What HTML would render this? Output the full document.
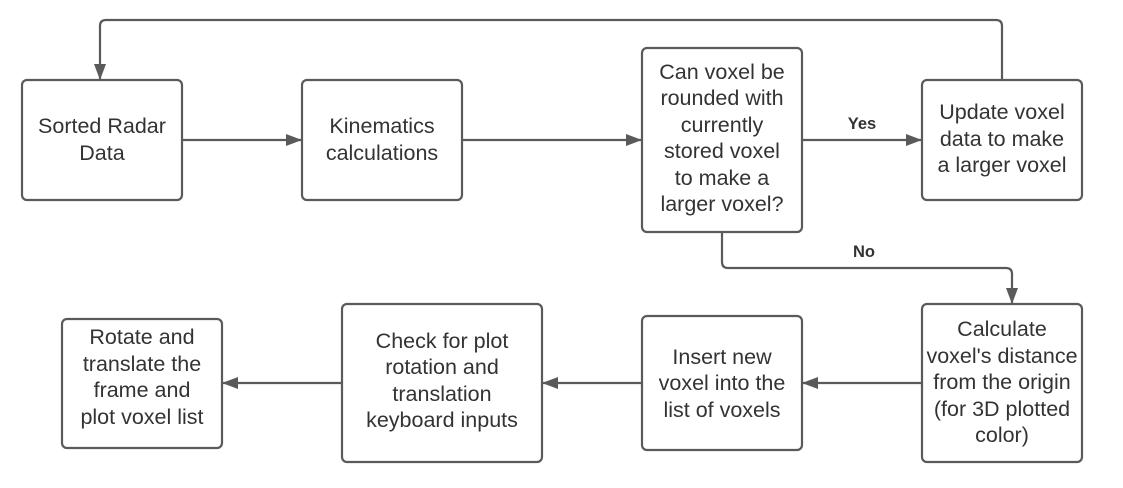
<!DOCTYPE html>
<html><head><style>
body{margin:0;background:#fff;}
svg text{font-family:"Liberation Sans",sans-serif;fill:#333;}
</style></head><body>
<svg width="1123" height="483" viewBox="0 0 1123 483" xmlns="http://www.w3.org/2000/svg">
<defs><marker id="a" markerWidth="16" markerHeight="12" refX="15" refY="6" orient="auto" markerUnits="userSpaceOnUse"><path d="M0,0 L16,6 L0,12 z" fill="#5a5a5a"/></marker></defs>
<g fill="none" stroke="#5a5a5a" stroke-width="2.2">
<rect x="22" y="80" width="160" height="120" rx="5"/>
<rect x="302" y="80" width="160" height="120" rx="5"/>
<rect x="642" y="48" width="160" height="184" rx="5"/>
<rect x="922" y="80" width="160" height="120" rx="5"/>
<rect x="922" y="304" width="160" height="158" rx="5"/>
<rect x="642" y="316" width="160" height="134" rx="5"/>
<rect x="342" y="304" width="200" height="158" rx="5"/>
<rect x="62" y="319" width="160" height="129" rx="5"/>
<path d="M182 140 H301" marker-end="url(#a)"/>
<path d="M462 140 H641" marker-end="url(#a)"/>
<path d="M802 140 H921" marker-end="url(#a)"/>
<path d="M1002 80 V26 Q1002 20 996 20 H106 Q100 20 100 26 V79" marker-end="url(#a)"/>
<path d="M722 232 V262 Q722 268 728 268 H1006 Q1012 268 1012 274 V303" marker-end="url(#a)"/>
<path d="M922 383 H803" marker-end="url(#a)"/>
<path d="M642 383 H543" marker-end="url(#a)"/>
<path d="M342 383 H223" marker-end="url(#a)"/>
</g>
<g font-size="21.5" text-anchor="middle">
<text x="102" y="133">Sorted Radar</text><text x="102" y="160">Data</text>
<text x="382" y="133">Kinematics</text><text x="382" y="160">calculations</text>
<text x="722" y="79">Can voxel be</text><text x="722" y="105">rounded with</text><text x="722" y="132">currently</text><text x="722" y="158">stored voxel</text><text x="722" y="185">to make a</text><text x="722" y="211">larger voxel?</text>
<text x="1002" y="119">Update voxel</text><text x="1002" y="146">data to make</text><text x="1002" y="172">a larger voxel</text>
<text x="1002" y="336">Calculate</text><text x="1002" y="363">voxel's distance</text><text x="1002" y="389">from the origin</text><text x="1002" y="416">(for 3D plotted</text><text x="1002" y="442">color)</text>
<text x="722" y="364">Insert new</text><text x="722" y="390">voxel into the</text><text x="722" y="417">list of voxels</text>
<text x="442" y="348">Check for plot</text><text x="442" y="374">rotation and</text><text x="442" y="401">translation</text><text x="442" y="427">keyboard inputs</text>
<text x="142" y="344">Rotate and</text><text x="142" y="371">translate the</text><text x="142" y="397">frame and</text><text x="142" y="424">plot voxel list</text>
</g>
<g font-size="16.5" font-weight="bold" text-anchor="middle">
<text x="862" y="129">Yes</text>
<text x="864" y="257">No</text>
</g>
</svg>
</body></html>
